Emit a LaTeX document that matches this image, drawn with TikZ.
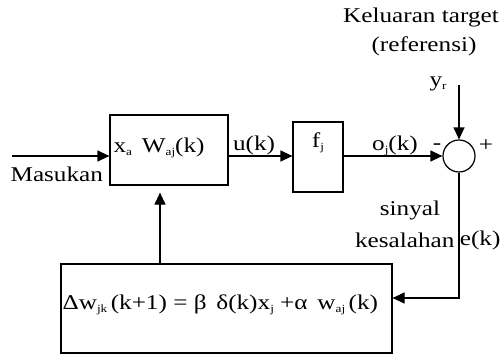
\documentclass[tikz,border=0pt]{standalone}
\usepackage{fontspec}
\setmainfont{Liberation Serif}[FakeStretch=1.2]
\usetikzlibrary{arrows.meta}
% small upright subscript in the text font
\newcommand\lowidx[1]{\raisebox{-0.35ex}{\fontsize{11}{11}\selectfont #1}}
\begin{document}
\begin{tikzpicture}[x=1pt,y=-1pt,line width=1.2pt,
  blk/.style={draw,inner sep=0pt},
  lbl/.style={inner sep=0pt,font=\fontsize{21}{23}\selectfont},
  sig/.style={-{Triangle[length=12pt,width=11pt]}}]
\useasboundingbox (0,0) rectangle (501,356);

% blocks
\node[blk,minimum width=118pt,minimum height=70pt] (w) at (169,150) {};
\node[blk,minimum width=50pt,minimum height=70pt] (f) at (318,157) {};
\node[blk,circle,minimum size=32pt] (sum) at (459,156) {};
\node[blk,minimum width=331pt,minimum height=89pt] (upd) at (226.5,308.5) {};

% reference points
\coordinate (row) at (0,156);
\coordinate (in) at (12,156);
\coordinate (yr) at (459,85);
\coordinate (fb) at (0,298);
\coordinate (up) at (160,0);

% signal paths
\draw[sig] (in) -- (w.west |- row);
\draw[sig] (w.east |- row) -- (f.west |- row);
\draw[sig] (f.east |- row) -- (sum.west);
\draw[sig] (yr) -- (sum.north);
\draw[sig] (sum.south) |- (upd.east |- fb);
\draw[sig,shorten >=7pt] (upd.north -| up) -- (w.south -| up);

% texts
\node[lbl,anchor=west] (wtxt) at (113,148) {x\lowidx{a} \,W\lowidx{aj}(k)};
\node[lbl,anchor=west] (mas) at (10,174) {Masukan};
\node[lbl] (uk) at (254,145) {u(k)};
\node[lbl] (ftxt) at (318,143) {f\lowidx{j}};
\node[lbl] (ok) at (395,146) {o\lowidx{j}(k)};
\node[lbl] (minus) at (437,147) {-};
\node[lbl] (plus) at (486,146) {+};
\node[lbl] (yl) at (438,84) {y\lowidx{r}};
\node[lbl] (kt) at (421,17) {Keluaran target};
\node[lbl] (ref) at (424,46) {(referensi)};
\node[lbl] (sin) at (410,210) {sinyal};
\node[lbl,anchor=east] (kes) at (455,240) {kesalahan};
\node[lbl,anchor=east] (ek) at (501,240) {e(k)};
\node[lbl,anchor=west] (eq) at (62,305) {Δw\lowidx{jk}\,(k+1) = β \,δ(k)x\lowidx{j} +α \,w\lowidx{aj}\,(k)};
\end{tikzpicture}
\end{document}
